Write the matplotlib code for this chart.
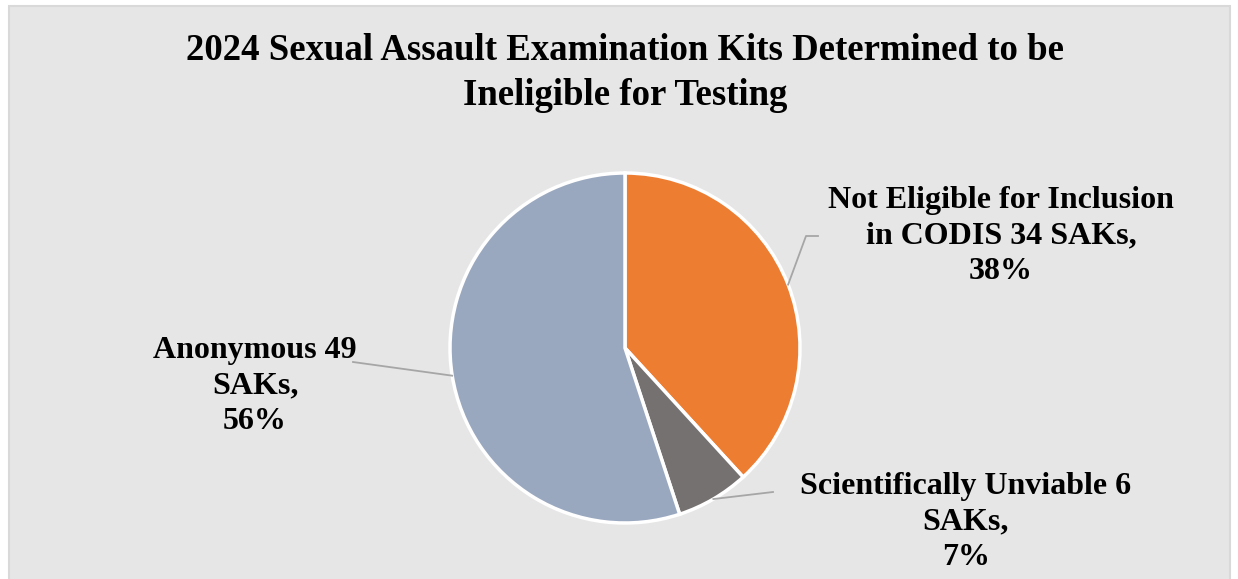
"""
2024 SAK ineligible-for-testing pie chart
"""

import numpy as np
import matplotlib.pyplot as plt
from matplotlib.patches import Rectangle

categories = ['Not Eligible for Inclusion in CODIS', 'Scientifically Unviable', 'Anonymous']
counts = [34, 6, 49]
pct_labels = ['38%', '7%', '56%']
label_text = [
    'Not Eligible for Inclusion\nin CODIS 34 SAKs,\n38%',
    'Scientifically Unviable 6\nSAKs,\n7%',
    'Anonymous 49\nSAKs,\n56%',
]
colors = ['#ED7D31', '#767171', '#9AA8BF']

W, H = 1238, 579
plt.rcParams['font.family'] = ['Liberation Serif', 'DejaVu Serif']

fig = plt.figure(figsize=(W / 100, H / 100), dpi=100)
fig.patch.set_facecolor('white')
ax = fig.add_axes([0, 0, 1, 1])


def fy(y):
    # pixel row (from top) -> data y (from bottom)
    return H - y


# chart area background + border
ax.add_patch(Rectangle((8.5, -10), W - 17, fy(5.5) + 10, facecolor='#E7E6E6',
                       edgecolor='#D9D9D9', linewidth=1.5, zorder=0))

cx, cy, r = 625, fy(348), 175
wedges, _ = ax.pie(counts, colors=colors, startangle=90, counterclock=False,
                   center=(cx, cy), radius=r, frame=True,
                   wedgeprops=dict(edgecolor='white', linewidth=2.5))
ax.set_xlim(0, W)
ax.set_ylim(0, H)
ax.set_aspect('equal')
ax.axis('off')

# label positions (centre of text block) and leader-line elbows
label_pos = [(1001, 236), (966, 522), (255, 386)]
elbows = [[(806, 236), (818, 236)], [(773, 492)], [(353, 362)]]

total = sum(counts)
start = 90
for i, (cnt, txt) in enumerate(zip(counts, label_text)):
    span = cnt / total * 360
    mid = np.deg2rad(start - span / 2)
    start -= span
    px, py = cx + r * np.cos(mid), cy + r * np.sin(mid)
    xs = [px] + [e[0] for e in elbows[i]]
    ys = [py] + [fy(e[1]) for e in elbows[i]]
    ax.plot(xs, ys, color='#A6A6A6', linewidth=1.3, zorder=3)
    ax.text(label_pos[i][0], fy(label_pos[i][1]), txt, ha='center', va='center',
            fontsize=23, fontweight='bold', linespacing=1.3, color='black')

fig.text(625 / W, 1 - 73 / H,
         '2024 Sexual Assault Examination Kits Determined to be\nIneligible for Testing',
         ha='center', va='center', fontsize=26.5, fontweight='bold', linespacing=1.4)

fig.savefig('out.png', dpi=100, facecolor='white')
